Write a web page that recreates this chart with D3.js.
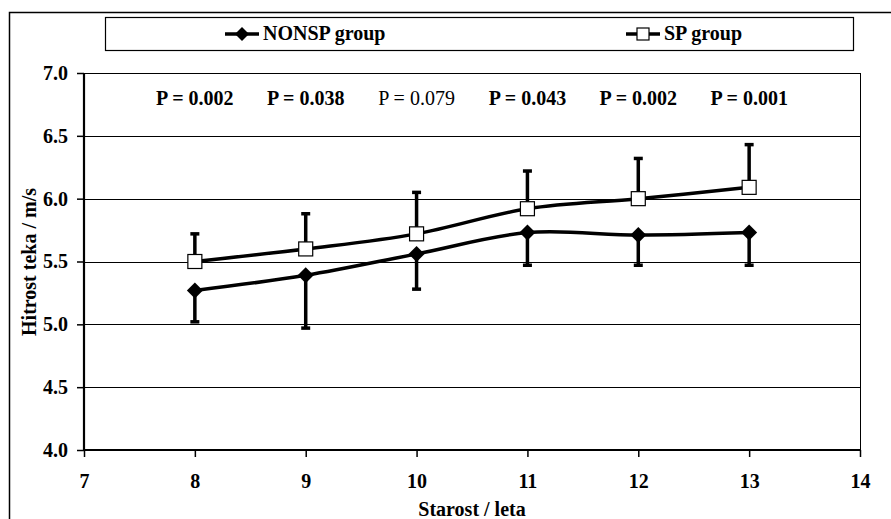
<!DOCTYPE html>
<html>
<head>
<meta charset="UTF-8">
<style>
  body { margin: 0; background: #fff; }
  svg text { font-family: "Liberation Serif", "DejaVu Serif", "Times New Roman", serif !important; fill: #000; }
</style>
</head>
<body>
<svg id="chart" width="891" height="519"></svg>
<script src="https://d3js.org/d3.v7.min.js"></script>
<script>
// data
const ages = [8, 9, 10, 11, 12, 13];
const nonsp = [5.27, 5.39, 5.56, 5.73, 5.71, 5.73];
const nonspLow = [5.02, 4.97, 5.28, 5.47, 5.47, 5.47];
const sp = [5.50, 5.60, 5.72, 5.92, 6.00, 6.09];
const spHigh = [5.72, 5.88, 6.05, 6.22, 6.32, 6.43];
const pLabels = ["P = 0.002", "P = 0.038", "P = 0.079", "P = 0.043", "P = 0.002", "P = 0.001"];
const pBold = [true, true, false, true, true, true];
const xTicks = [7, 8, 9, 10, 11, 12, 13, 14];
const yTicks = [4.0, 4.5, 5.0, 5.5, 6.0, 6.5, 7.0];

const FS = 20;
const svg = d3.select("#chart");

// outer frame
svg.append("rect").attr("x", 9.5).attr("y", 12.5).attr("width", 900).attr("height", 520)
  .attr("fill", "none").attr("stroke", "#000").attr("stroke-width", 1.5);

const x = d3.scaleLinear().domain([7, 14]).range([84, 860]);
const y = d3.scaleLinear().domain([4, 7]).range([450, 73]);

// gridlines
svg.append("g").selectAll("line").data(yTicks.slice(1)).join("line")
  .attr("x1", x(7)).attr("x2", x(14))
  .attr("y1", d => Math.round(y(d)) + 0.5).attr("y2", d => Math.round(y(d)) + 0.5)
  .attr("stroke", "#000").attr("stroke-width", 1);
// right border
svg.append("line").attr("x1", x(14) + 0.5).attr("x2", x(14) + 0.5)
  .attr("y1", y(7)).attr("y2", y(4)).attr("stroke", "#000").attr("stroke-width", 1);

// axes
const yAxis = svg.append("g").attr("transform", `translate(${x(7)},0)`)
  .call(d3.axisLeft(y).tickValues(yTicks).tickFormat(d3.format(".1f")).tickSize(7).tickPadding(9));
const xAxis = svg.append("g").attr("transform", `translate(0,${y(4)})`)
  .call(d3.axisBottom(x).tickValues(xTicks).tickFormat(d3.format("d")).tickSize(7).tickPadding(17));
[yAxis, xAxis].forEach(a => {
  a.attr("font-family", null).attr("font-size", null);
  a.select(".domain").attr("stroke", "#000").attr("stroke-width", 2.2);
  a.selectAll(".tick line").attr("stroke", "#000").attr("stroke-width", 1.5);
  a.selectAll("text").attr("font-size", FS).attr("font-weight", "bold");
});
xAxis.select(".domain").attr("d", `M${x(7)},0H${x(14)}`);
yAxis.select(".domain").attr("d", `M0,${y(4)}V${y(7)}`);

// axis titles
svg.append("text").attr("x", 472).attr("y", 516).attr("text-anchor", "middle")
  .attr("font-size", FS).attr("font-weight", "bold").text("Starost / leta");
svg.append("text").attr("transform", "translate(36,262) rotate(-90)").attr("text-anchor", "middle")
  .attr("font-size", FS).attr("font-weight", "bold").text("Hitrost teka / m/s");

// error bars
function errBars(vals, ends) {
  const g = svg.append("g");
  g.selectAll("line.v").data(ages).join("line")
    .attr("x1", (d) => x(d)).attr("x2", d => x(d))
    .attr("y1", (d, i) => y(vals[i])).attr("y2", (d, i) => y(ends[i]))
    .attr("stroke", "#000").attr("stroke-width", 3.5);
  g.selectAll("line.c").data(ages).join("line")
    .attr("x1", d => x(d) - 4.5).attr("x2", d => x(d) + 4.5)
    .attr("y1", (d, i) => y(ends[i])).attr("y2", (d, i) => y(ends[i]))
    .attr("stroke", "#000").attr("stroke-width", 3.5);
}
errBars(nonsp, nonspLow);
errBars(sp, spHigh);

// lines
const line = d3.line().x((d, i) => x(ages[i])).y(d => y(d)).curve(d3.curveCatmullRom.alpha(0));
svg.append("path").datum(nonsp).attr("d", line).attr("fill", "none").attr("stroke", "#000").attr("stroke-width", 3.5);
svg.append("path").datum(sp).attr("d", line).attr("fill", "none").attr("stroke", "#000").attr("stroke-width", 3.5);

// markers
const diamond = s => `M0,${-s}L${s},0L0,${s}L${-s},0Z`;
svg.append("g").selectAll("path").data(nonsp).join("path")
  .attr("transform", (d, i) => `translate(${x(ages[i])},${y(d)})`)
  .attr("d", diamond(8)).attr("fill", "#000");
svg.append("g").selectAll("rect").data(sp).join("rect")
  .attr("x", (d, i) => x(ages[i]) - 7).attr("y", d => y(d) - 7)
  .attr("width", 14).attr("height", 14)
  .attr("fill", "#fff").attr("stroke", "#000").attr("stroke-width", 1.2);

// p values
svg.append("g").selectAll("text").data(pLabels).join("text")
  .attr("x", (d, i) => x(ages[i])).attr("y", 105).attr("text-anchor", "middle")
  .attr("font-size", FS).attr("font-weight", (d, i) => pBold[i] ? "bold" : "normal")
  .text(d => d);

// legend
const lg = svg.append("g");
lg.append("rect").attr("x", 105.5).attr("y", 17.5).attr("width", 748).attr("height", 33)
  .attr("fill", "#fff").attr("stroke", "#000").attr("stroke-width", 1.2);
const legendItems = [{name: "NONSP group", x: 242, kind: "d"}, {name: "SP group", x: 643, kind: "s"}];
legendItems.forEach(it => {
  lg.append("line").attr("x1", it.x - 17).attr("x2", it.x + 17).attr("y1", 34).attr("y2", 34)
    .attr("stroke", "#000").attr("stroke-width", 3.5);
  if (it.kind === "d") {
    lg.append("path").attr("transform", `translate(${it.x},34)`).attr("d", diamond(7)).attr("fill", "#000");
  } else {
    lg.append("rect").attr("x", it.x - 6).attr("y", 28).attr("width", 12).attr("height", 12)
      .attr("fill", "#fff").attr("stroke", "#000").attr("stroke-width", 1.2);
  }
  lg.append("text").attr("x", it.x + 21).attr("y", 40).attr("font-size", FS).attr("font-weight", "bold").text(it.name);
});
</script>
</body>
</html>
